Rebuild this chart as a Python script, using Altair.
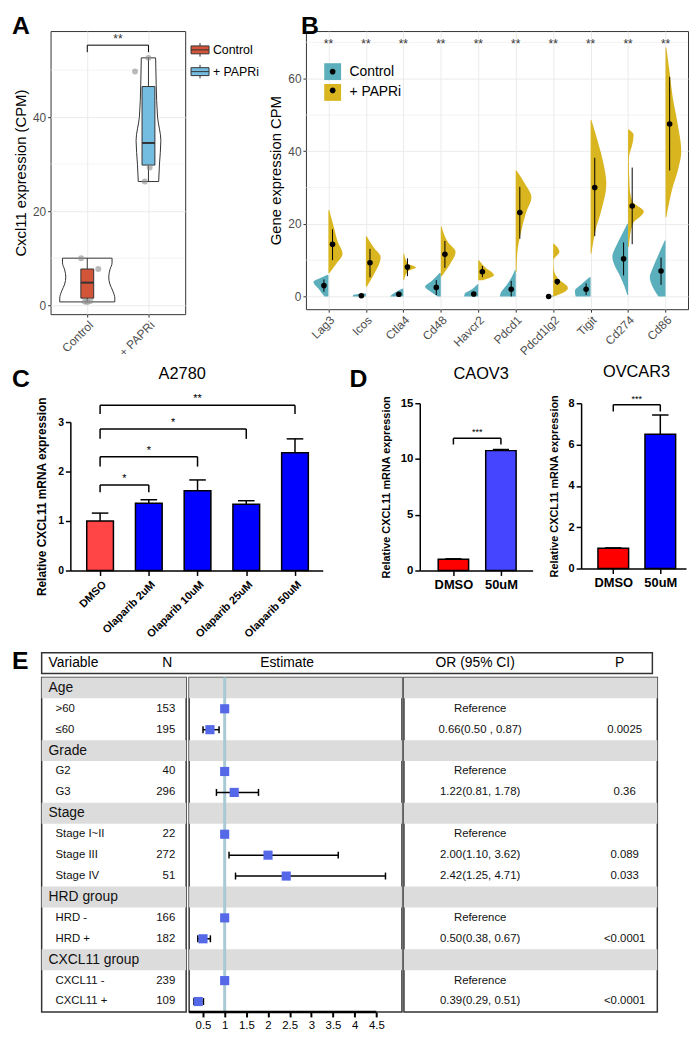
import json
import altair as alt
import pandas as pd

FONT = "Liberation Sans"
DARK = "#333333"
GRID = "#EBEBEB"

# ---------------- Panel A data ----------------
A_groups = ["Control", "+ PAPRi"]
A_fill = ["#D2553A", "#74BCE0"]
A_q1 = [1.5, 29.8]
A_median = [4.8, 34.5]
A_q3 = [7.7, 46.5]
A_low = [0.7, 26.3]
A_high = [10.0, 52.6]
A_point_group = [1, 1, 1, 1, 1, 2, 2, 2, 2]
A_point_value = [10.0, 7.7, 0.8, 0.7, 0.9, 49.7, 52.6, 29.3, 26.3]
A_point_jitter = [-0.10, 0.18, -0.04, 0.0, 0.05, -0.22, 0.0, 0.02, -0.06]
A_violin_group = [1, 1, 1, 1, 1, 1, 1, 1, 2, 2, 2, 2, 2, 2]
A_violin_value = [0.7, 1.5, 3.0, 4.5, 6.0, 7.5, 9.0, 10.0, 26.3, 30.0, 35.0, 40.0, 47.0, 52.6]
A_violin_density = [1.0, 1.0, 0.93, 0.82, 0.78, 0.82, 0.9, 0.9, 0.37, 0.40, 0.45, 0.33, 0.28, 0.26]
A_minor = [10, 30, 50]
A_bracket_level = [55.3]
A_bracket_leg = [53.8]
A_bracket_text = ["**"]

# ---------------- Panel B data ----------------
B_genes = ["Lag3", "Icos", "Ctla4", "Cd48", "Havcr2", "Pdcd1", "Pdcd1lg2", "Tigit", "Cd274", "Cd86"]
B_groups = ["Control", "+ PAPRi"]
B_fill = ["#5BAEBC", "#D9B51F"]
B_ctrl_mean = [3.0, 0.2, 0.6, 2.5, 0.7, 2.0, 0.0, 2.0, 10.4, 7.0]
B_ctrl_low = [1.3, 0.1, 0.3, 0.4, 0.2, 0.0, 0.0, 0.4, 5.8, 3.2]
B_ctrl_high = [4.7, 0.3, 1.0, 4.5, 1.3, 4.3, 0.0, 3.6, 14.9, 10.7]
B_parp_mean = [14.4, 9.3, 8.1, 11.6, 6.8, 23.1, 4.1, 30.0, 24.9, 47.5]
B_parp_low = [10.0, 5.3, 5.6, 7.9, 5.3, 15.9, 3.2, 16.6, 14.4, 34.7]
B_parp_high = [18.5, 13.1, 10.5, 15.3, 8.4, 30.2, 4.7, 38.2, 35.5, 60.5]
B_violin_control = {
    "Lag3": ([0, 2, 4, 5, 5.9], [0.25, 0.6, 0.95, 0.55, 0.1]),
    "Icos": ([0, 0.4, 0.8], [0.85, 0.8, 0.15]),
    "Ctla4": ([0, 1, 2.1], [0.85, 0.55, 0.08]),
    "Cd48": ([0, 1.5, 2.7, 4.2, 6.5], [0.2, 0.7, 1.0, 0.6, 0.08]),
    "Havcr2": ([0, 0.8, 2, 3.4], [0.9, 0.85, 0.4, 0.05]),
    "Pdcd1": ([0, 1, 3, 5, 7.3], [1.0, 0.95, 0.6, 0.3, 0.05]),
    "Pdcd1lg2": ([0, 0.3], [0.15, 0.05]),
    "Tigit": ([0, 1.5, 3.5, 5.3], [0.95, 1.0, 0.55, 0.08]),
    "Cd274": ([0.4, 3, 6, 9, 11, 14, 17, 20], [0.05, 0.25, 0.55, 0.9, 1.0, 0.75, 0.4, 0.05]),
    "Cd86": ([0, 2.5, 5.3, 8, 11, 15.4], [0.45, 0.8, 1.0, 0.8, 0.5, 0.05]),
}
B_violin_parpi = {
    "Lag3": ([6.4, 9, 11.8, 15, 19, 23.8], [0.05, 0.5, 0.9, 0.6, 0.35, 0.05]),
    "Icos": ([2.7, 6, 10.9, 13.5, 16.6], [0.05, 0.5, 0.94, 0.5, 0.05]),
    "Ctla4": ([4.5, 7, 8, 9, 11.8], [0.05, 0.3, 0.8, 0.3, 0.05]),
    "Cd48": ([5.5, 9, 12.3, 15, 19.3], [0.05, 0.6, 0.94, 0.45, 0.05]),
    "Havcr2": ([4.5, 5.9, 8, 10], [0.3, 1.0, 0.45, 0.05]),
    "Pdcd1": ([6.8, 12, 18, 23, 27.3, 31, 34.7], [0.05, 0.1, 0.35, 0.65, 1.0, 0.6, 0.05]),
    "Pdcd1lg2": ([0, 2.3, 5, 7.3, 10, 12.3, 14.5], [0.05, 0.94, 0.3, 0.05, 0.02, 0.4, 0.05]),
    "Tigit": ([11.8, 18, 24, 31, 37, 42, 48.6], [0.05, 0.3, 0.7, 1.0, 0.8, 0.5, 0.05]),
    "Cd274": ([13.6, 20, 23.4, 26, 30, 38, 42.5, 44.5, 46], [0.05, 0.3, 1.0, 0.3, 0.1, 0.05, 0.3, 0.35, 0.05]),
    "Cd86": ([21.8, 30, 35, 40, 48, 55, 62, 68.6], [0.05, 0.45, 0.8, 1.0, 0.75, 0.45, 0.25, 0.05]),
}
B_minor = [10, 30, 50, 70]
B_sig_level = [69.6]
B_sig_text = "**"

# ---------------- Panel C / D data ----------------
C_conditions = ["DMSO", "Olaparib 2uM", "Olaparib 10uM", "Olaparib 25uM", "Olaparib 50uM"]
C_mean = [1.0, 1.36, 1.61, 1.34, 2.38]
C_sd = [0.16, 0.07, 0.22, 0.07, 0.28]
C_colors = ["#FF4545", "#0000FF", "#0000FF", "#0000FF", "#0000FF"]
C_br_from = [0, 0, 0, 0]
C_br_to = [1, 2, 3, 4]
C_br_level = [1.73, 2.30, 2.86, 3.34]
C_br_leg = [1.58, 2.10, 2.66, 3.16]
C_br_text = ["*", "*", "*", "**"]

D1_conditions = ["DMSO", "50uM"]
D1_mean = [1.0, 10.75]
D1_sd = [0.05, 0.1]
D1_colors = ["#FF0000", "#4545FF"]
D1_br_level = [11.86]
D1_br_leg = [11.3]
D1_br_text = ["***"]

D2_conditions = ["DMSO", "50uM"]
D2_mean = [0.98, 6.5]
D2_sd = [0.02, 0.93]
D2_colors = ["#FF0000", "#0000FF"]
D2_br_level = [7.93]
D2_br_leg = [7.6]
D2_br_text = ["***"]

# ---------------- Panel E data ----------------
E_labels = ["Age", ">60", "≤60", "Grade", "G2", "G3", "Stage", "Stage I~II", "Stage III", "Stage IV",
            "HRD group", "HRD -", "HRD +", "CXCL11 group", "CXCL11 -", "CXCL11 +"]
E_is_group = [1, 0, 0, 1, 0, 0, 1, 0, 0, 0, 1, 0, 0, 1, 0, 0]
E_n = ["", "153", "195", "", "40", "296", "", "22", "272", "51", "", "166", "182", "", "239", "109"]
E_or = [None, 1, 0.66, None, 1, 1.22, None, 1, 2.00, 2.42, None, 1, 0.50, None, 1, 0.39]
E_low = [None, None, 0.50, None, None, 0.81, None, None, 1.10, 1.25, None, None, 0.38, None, None, 0.29]
E_high = [None, None, 0.87, None, None, 1.78, None, None, 3.62, 4.71, None, None, 0.67, None, None, 0.51]
E_or_text = ["", "Reference", "0.66(0.50 , 0.87)", "", "Reference", "1.22(0.81, 1.78)", "", "Reference",
             "2.00(1.10, 3.62)", "2.42(1.25, 4.71)", "", "Reference", "0.50(0.38, 0.67)", "", "Reference",
             "0.39(0.29, 0.51)"]
E_p = ["", "", "0.0025", "", "", "0.36", "", "", "0.089", "0.033", "", "", "<0.0001", "", "", "<0.0001"]
E_ref = [1]
E_ticks = [0.5, 1, 1.5, 2, 2.5, 3, 3.5, 4, 4.5]
E_axis_span = [0.18, 4.5]
E_header = ["Variable", "N", "Estimate", "OR (95%  CI)", "P"]

INDEP = dict(color="independent", fill="independent", opacity="independent")


def indep(c):
    return c.resolve_scale(**INDEP).resolve_legend(**INDEP)


def cat(*charts, columns, spacing):
    return indep(alt.concat(*charts, columns=columns, spacing=spacing, align="none"))


def spacer(w=1, h=1):
    return alt.Chart(pd.DataFrame({"t": [0]})).mark_rect(opacity=0).encode(
        x=alt.value(0), x2=alt.value(1), y=alt.value(0), y2=alt.value(1)).properties(width=w, height=h)


def label_layer(text, x, y, size, weight="normal", align="left", baseline="top", color="black"):
    return alt.Chart(pd.DataFrame({"t": [text]})).mark_text(
        font=FONT, fontSize=size, fontWeight=weight, align=align, baseline=baseline, color=color
    ).encode(x=alt.value(x), y=alt.value(y), text="t:N")


# ======================= Panel A =======================
wA, hA = 136, 286
sxA = alt.Scale(domain=[0.4, 2.6], nice=False, zero=False)
syA = alt.Scale(domain=[-1.9, 58.3], nice=False, zero=False)
gg = dict(grid=True, gridColor=GRID, gridWidth=1, domain=False, tickColor=DARK, tickSize=3, tickWidth=1,
          labelFont=FONT, labelFontSize=12, labelColor="#4D4D4D", labelPadding=2, labelOverlap=False)
axAx = alt.Axis(values=[1, 2], labelExpr=json.dumps(A_groups) + "[datum.value - 1]", labelAngle=-45,
                title=None, **gg)
axAy = alt.Axis(values=[0, 20, 40], title="Cxcl11 expression (CPM)", titleFont=FONT, titleFontSize=15,
                titleFontWeight="normal", titleColor="black", titlePadding=4, **gg)


def XA(f):
    return alt.X(f, type="quantitative", scale=sxA, axis=axAx)


def YA(f):
    return alt.Y(f, type="quantitative", scale=syA, axis=axAy)


dfA_box = pd.DataFrame({"name": A_groups, "g": [1, 2], "q1": A_q1, "med": A_median, "q3": A_q3,
                        "lo": A_low, "hi": A_high})
dfA_pts = pd.DataFrame({"g": A_point_group, "v": A_point_value, "j": A_point_jitter})
dfA_vio = pd.DataFrame({"g": A_violin_group, "v": A_violin_value, "d": A_violin_density})
dfA_br = pd.DataFrame({"a": [1], "b": [2], "lev": A_bracket_level, "leg": A_bracket_leg, "t": A_bracket_text})

BOX_PATH = "M-1,-0.44H1V0.44H-1Z M-1,0H1 M0,-0.44V-0.75 M0,0.44V0.75"

a_minor = alt.Chart(pd.DataFrame({"v": A_minor})).mark_rule(color=GRID, strokeWidth=0.6).encode(y=YA("v"))
a_violin = alt.Chart(dfA_vio).transform_calculate(
    xl="datum.g - 0.45*datum.d", xr="datum.g + 0.45*datum.d"
).mark_area(orient="horizontal", interpolate="monotone", fill="white", stroke=DARK, strokeWidth=1,
            opacity=1).encode(y=YA("v"), x=XA("xl"), x2=alt.X2("xr"), detail=alt.Detail("g:N"))
a_w1 = alt.Chart(dfA_box).mark_rule(color=DARK, strokeWidth=1).encode(x=XA("g"), y=YA("lo"), y2=alt.Y2("q1"))
a_w2 = alt.Chart(dfA_box).mark_rule(color=DARK, strokeWidth=1).encode(x=XA("g"), y=YA("q3"), y2=alt.Y2("hi"))
a_box = alt.Chart(dfA_box).transform_calculate(bl="datum.g - 0.105", br="datum.g + 0.105").mark_rect(
    stroke=DARK, strokeWidth=1, opacity=1
).encode(
    x=XA("bl"), x2=alt.X2("br"), y=YA("q1"), y2=alt.Y2("q3"),
    color=alt.Color("name:N", scale=alt.Scale(domain=A_groups, range=A_fill),
                    legend=alt.Legend(title=None, orient="none", legendX=141, legendY=9, symbolType=BOX_PATH,
                                      symbolSize=330, symbolStrokeColor=DARK, symbolStrokeWidth=1,
                                      symbolOpacity=1, labelFont=FONT, labelFontSize=12.5, labelColor="black",
                                      labelOffset=3, rowPadding=3)),
)
a_med = alt.Chart(dfA_box).transform_calculate(bl="datum.g - 0.105", br="datum.g + 0.105").mark_rule(
    color=DARK, strokeWidth=2).encode(x=XA("bl"), x2=alt.X2("br"), y=YA("med"))
a_pts = alt.Chart(dfA_pts).transform_calculate(px="datum.g + datum.j").mark_circle(
    size=36, color="#8C8C8C", opacity=0.6).encode(x=XA("px"), y=YA("v"))
a_brh = alt.Chart(dfA_br).mark_rule(color="black", strokeWidth=1).encode(x=XA("a"), x2=alt.X2("b"), y=YA("lev"))
a_brl = alt.Chart(dfA_br).mark_rule(color="black", strokeWidth=1).encode(x=XA("a"), y=YA("leg"), y2=alt.Y2("lev"))
a_brr = alt.Chart(dfA_br).mark_rule(color="black", strokeWidth=1).encode(x=XA("b"), y=YA("leg"), y2=alt.Y2("lev"))
a_star = alt.Chart(dfA_br).transform_calculate(mid="(datum.a + datum.b)/2").mark_text(
    font=FONT, fontSize=12, dy=-2, baseline="alphabetic", color=DARK).encode(x=XA("mid"), y=YA("lev"), text="t:N")
a_letter = label_layer("A", -39, -17, 25, "bold")

panelA = indep(alt.layer(a_minor, a_violin, a_w1, a_w2, a_box, a_med, a_pts, a_brh, a_brl, a_brr, a_star,
                         a_letter)).properties(width=wA, height=hA,
                                               view=alt.ViewBackground(stroke=DARK, strokeWidth=1))

# ======================= Panel B =======================
wB, hB = 386, 281
sxB = alt.Scale(domain=[0.4, 10.6], nice=False, zero=False)
syB = alt.Scale(domain=[-3.5, 73.1], nice=False, zero=False)
axBx = alt.Axis(values=list(range(1, 11)), labelExpr=json.dumps(B_genes) + "[datum.value - 1]",
                labelAngle=-45, title=None, **gg)
axBy = alt.Axis(values=[0, 20, 40, 60], title="Gene expression CPM", titleFont=FONT, titleFontSize=15,
                titleFontWeight="normal", titleColor="black", titlePadding=4, **gg)


def XB(f):
    return alt.X(f, type="quantitative", scale=sxB, axis=axBx)


def YB(f):
    return alt.Y(f, type="quantitative", scale=syB, axis=axBy)


rows_v = []
for gi, gene in enumerate(B_genes, start=1):
    for grp, prof in (("Control", B_violin_control), ("+ PAPRi", B_violin_parpi)):
        vals, dens = prof[gene]
        for v, d in zip(vals, dens):
            rows_v.append({"gene": gene, "gi": gi, "grp": grp, "v": v, "d": d})
dfB_vio = pd.DataFrame(rows_v)

rows_s = []
for k, gene in enumerate(B_genes):
    rows_s.append({"gene": gene, "gi": k + 1, "grp": "Control", "m": B_ctrl_mean[k],
                   "lo": B_ctrl_low[k], "hi": B_ctrl_high[k]})
    rows_s.append({"gene": gene, "gi": k + 1, "grp": "+ PAPRi", "m": B_parp_mean[k],
                   "lo": B_parp_low[k], "hi": B_parp_high[k]})
dfB_sum = pd.DataFrame(rows_s)
dfB_sig = pd.DataFrame({"gi": list(range(1, 11)), "lev": B_sig_level * 10, "t": [B_sig_text] * 10})

DOT_PATH = "M-0.34,0A0.34,0.34 0 1,0 0.34,0A0.34,0.34 0 1,0 -0.34,0Z"

b_minor = alt.Chart(pd.DataFrame({"v": B_minor})).mark_rule(color=GRID, strokeWidth=0.6).encode(y=YB("v"))
b_violin = alt.Chart(dfB_vio).transform_calculate(
    xl="datum.gi + (datum.grp == 'Control' ? -1 : 1) * 0.42 * datum.d"
).mark_area(orient="horizontal", interpolate="monotone", opacity=1).encode(
    y=YB("v"), x=XB("xl"), x2=alt.X2("gi"), detail=alt.Detail("gene:N"),
    color=alt.Color("grp:N", scale=alt.Scale(domain=B_groups, range=B_fill),
                    legend=alt.Legend(title=None, orient="none", legendX=18, legendY=32, symbolType="square",
                                      symbolSize=290, symbolStrokeWidth=0, symbolOpacity=1, labelFont=FONT,
                                      labelFontSize=14, labelColor="black", labelOffset=8, rowPadding=3)),
)
b_err = alt.Chart(dfB_sum).transform_calculate(
    px="datum.gi + (datum.grp == 'Control' ? -0.12 : 0.11)"
).mark_rule(color="black", strokeWidth=1).encode(x=XB("px"), y=YB("lo"), y2=alt.Y2("hi"))
b_dot = alt.Chart(dfB_sum).transform_calculate(
    px="datum.gi + (datum.grp == 'Control' ? -0.12 : 0.11)", grp2="datum.grp"
).mark_circle(size=32, color="black").encode(
    x=XB("px"), y=YB("m"),
    opacity=alt.Opacity("grp2:O", scale=alt.Scale(domain=B_groups, range=[1, 1]),
                        legend=alt.Legend(title=None, orient="none", legendX=18, legendY=32,
                                          symbolType=DOT_PATH, symbolSize=290, symbolFillColor="black",
                                          symbolStrokeWidth=0, labelFont=FONT, labelFontSize=14,
                                          labelOpacity=0, labelOffset=8, rowPadding=3)),
)
b_star = alt.Chart(dfB_sig).mark_text(font=FONT, fontSize=12, color=DARK, baseline="middle").encode(
    x=XB("gi"), y=YB("lev"), text="t:N")
b_letter = label_layer("B", -5, -17, 25, "bold")

panelB = indep(alt.layer(b_minor, b_violin, b_err, b_dot, b_star, b_letter)).properties(
    width=wB, height=hB, view=alt.ViewBackground(stroke=DARK, strokeWidth=1))


# ======================= Panels C / D =======================
def bar_panel(conds, means, sds, colors, br_from, br_to, br_level, br_leg, br_text, width, height, ydom,
              yvals, xdom, hw, cap, ytitle, ytitle_size, ytitle_pad, ylab_size, xlab_angle, xlab_size,
              title, title_x, title_y, star_size, letter=None, letter_x=0, letter_y=0):
    n = len(conds)
    df = pd.DataFrame({"c": conds, "i": list(range(n)), "m": means, "e": sds})
    dfbr = pd.DataFrame({"a": br_from, "b": br_to, "lev": br_level, "leg": br_leg, "t": br_text})
    sx = alt.Scale(domain=xdom, nice=False, zero=False)
    sy = alt.Scale(domain=ydom, nice=False, zero=False)
    common = dict(domainColor="black", domainWidth=1.5, tickColor="black", tickWidth=1.5, tickSize=5,
                  labelFont=FONT, labelFontWeight="bold", labelColor="black", grid=False, labelOverlap=False)
    xkw = dict(labelAngle=xlab_angle)
    if xlab_angle == 0:
        xkw.update(labelAlign="center", labelBaseline="top")
    ax_x = alt.Axis(values=list(range(n)), labelExpr=json.dumps(conds) + "[datum.value]",
                    labelFontSize=xlab_size, title=None, labelPadding=3, **xkw, **common)
    ax_y = alt.Axis(values=yvals, labelFontSize=ylab_size, title=ytitle, titleFont=FONT,
                    titleFontSize=ytitle_size, titleFontWeight="bold", titleColor="black",
                    titlePadding=ytitle_pad, labelPadding=2, **common)

    def X(f):
        return alt.X(f, type="quantitative", scale=sx, axis=ax_x)

    def Y(f):
        return alt.Y(f, type="quantitative", scale=sy, axis=ax_y)

    base = alt.Chart(df).transform_calculate(
        l=f"datum.i - {hw}", r=f"datum.i + {hw}", cl=f"datum.i - {cap}", cr=f"datum.i + {cap}",
        z="0", top="datum.m + datum.e")
    bars = base.mark_rect(stroke="black", strokeWidth=1.5, opacity=1).encode(
        x=X("l"), x2=alt.X2("r"), y=Y("z"), y2=alt.Y2("m"),
        fill=alt.Fill("c:N", scale=alt.Scale(domain=conds, range=colors), legend=None))
    err = base.mark_rule(color="black", strokeWidth=1.5).encode(x=X("i"), y=Y("m"), y2=alt.Y2("top"))
    capl = base.mark_rule(color="black", strokeWidth=1.5).encode(x=X("cl"), x2=alt.X2("cr"), y=Y("top"))
    brh = alt.Chart(dfbr).mark_rule(color="black", strokeWidth=1.5).encode(x=X("a"), x2=alt.X2("b"), y=Y("lev"))
    brl = alt.Chart(dfbr).mark_rule(color="black", strokeWidth=1.5).encode(x=X("a"), y=Y("leg"), y2=alt.Y2("lev"))
    brr = alt.Chart(dfbr).mark_rule(color="black", strokeWidth=1.5).encode(x=X("b"), y=Y("leg"), y2=alt.Y2("lev"))
    stars = alt.Chart(dfbr).transform_calculate(mid="(datum.a + datum.b)/2").mark_text(
        font=FONT, fontSize=star_size, dy=-3, baseline="alphabetic", color="black").encode(
        x=X("mid"), y=Y("lev"), text="t:N")
    layers = [bars, err, capl, brh, brl, brr, stars,
              label_layer(title, title_x, title_y, 16.5, "normal", "center")]
    if letter:
        layers.append(label_layer(letter, letter_x, letter_y, 25, "bold"))
    return indep(alt.layer(*layers)).properties(width=width, height=height)


panelC = bar_panel(C_conditions, C_mean, C_sd, C_colors, C_br_from, C_br_to, C_br_level, C_br_leg, C_br_text,
                   width=255, height=150, ydom=[0, 3], yvals=[0, 1, 2, 3], xdom=[-0.61, 4.57], hw=0.274,
                   cap=0.17, ytitle="Relative CXCL11 mRNA expression", ytitle_size=12, ytitle_pad=9,
                   ylab_size=10.5, xlab_angle=-45, xlab_size=11, title="A2780", title_x=113, title_y=-56,
                   star_size=11, letter="C", letter_x=-59, letter_y=-55)
panelD1 = bar_panel(D1_conditions, D1_mean, D1_sd, D1_colors, [0], [1], D1_br_level, D1_br_leg, D1_br_text,
                    width=114, height=169, ydom=[0, 15], yvals=[0, 5, 10, 15], xdom=[-0.708, 1.667], hw=0.32,
                    cap=0.17, ytitle="Relative CXCL11 mRNA expression", ytitle_size=11, ytitle_pad=9,
                    ylab_size=11.5, xlab_angle=0, xlab_size=13, title="CAOV3", title_x=62, title_y=-37,
                    star_size=9, letter="D", letter_x=-71, letter_y=-36)
panelD2 = bar_panel(D2_conditions, D2_mean, D2_sd, D2_colors, [0], [1], D2_br_level, D2_br_leg, D2_br_text,
                    width=106, height=167, ydom=[0, 8], yvals=[0, 2, 4, 6, 8], xdom=[-0.684, 1.547], hw=0.326,
                    cap=0.175, ytitle="Relative CXCL11 mRNA expression", ytitle_size=11, ytitle_pad=9,
                    ylab_size=11, xlab_angle=0, xlab_size=13, title="OVCAR3", title_x=56, title_y=-39,
                    star_size=9)

# ======================= Panel E =======================
wL, wM, wR = 146, 215, 256
hHead = 21
hBody = 338
BAND = "#DCDCDC"
dfE = pd.DataFrame({"row": list(range(len(E_labels))), "label": E_labels, "grp": E_is_group, "n": E_n,
                    "or": E_or, "lo": E_low, "hi": E_high, "ort": E_or_text, "p": E_p})
Yrow = alt.Y("row:O", scale=alt.Scale(domain=list(range(len(E_labels))), paddingInner=0, paddingOuter=0),
             axis=None)


def bands(w):
    return alt.Chart(dfE).transform_filter("datum.grp == 1").mark_rect(fill=BAND).encode(
        y=Yrow, x=alt.value(0), x2=alt.value(w))


def col_text(field, x, size, align, flt):
    return alt.Chart(dfE).transform_filter(flt).mark_text(
        font=FONT, fontSize=size, align=align, baseline="middle", color="#111111").encode(
        y=Yrow, x=alt.value(x), text=f"{field}:N")


border = alt.ViewBackground(stroke=DARK, strokeWidth=1.5)
wAll = wL + wM + wR
e_head = alt.layer(
    label_layer(E_header[0], 7, 10.5, 14, baseline="middle"),
    label_layer(E_header[1], 127, 10.5, 14, align="center", baseline="middle"),
    label_layer(E_header[2], wL + 102, 10.5, 14, align="center", baseline="middle"),
    label_layer(E_header[3], wL + wM + 77, 10.5, 14, align="center", baseline="middle"),
    label_layer(E_header[4], wL + wM + 223, 10.5, 14, align="center", baseline="middle"),
    label_layer("E", -30, -4, 25, "bold"),
).properties(width=wAll, height=hHead, view=border)

e_left = alt.layer(
    bands(wL),
    col_text("label", 7, 14, "left", "datum.grp == 1"),
    col_text("label", 14, 11.5, "left", "datum.grp == 0"),
    col_text("n", 135, 11.5, "right", "datum.grp == 0"),
).properties(width=wL, height=hBody, view=border)

sxE = alt.Scale(domain=[0.18, 5.09], nice=False, zero=False)
axE = alt.Axis(values=E_ticks, format="~g", domain=False, tickColor="black", tickWidth=2,
               tickSize=5, labelFont=FONT, labelFontSize=11.5, labelColor="black", labelPadding=3, title=None,
               grid=False, labelOverlap=False)


def XE(f):
    return alt.X(f, type="quantitative", scale=sxE, axis=axE)


e_ref = alt.Chart(pd.DataFrame({"ref": E_ref})).mark_rule(color="#A9C9D5", strokeWidth=3).encode(
    x=XE("ref"), y=alt.value(0), y2=alt.value(hBody))
est = alt.Chart(dfE).transform_filter("datum.grp == 0")
e_ci = est.transform_filter("isValid(datum.lo)").mark_rule(color="black", strokeWidth=1.5).encode(
    x=XE("lo"), x2=alt.X2("hi"), y=Yrow)
e_capl = est.transform_filter("isValid(datum.lo)").mark_tick(color="black", thickness=1.5, size=7,
                                                             opacity=1).encode(x=XE("lo"), y=Yrow)
e_caph = est.transform_filter("isValid(datum.hi)").mark_tick(color="black", thickness=1.5, size=7,
                                                             opacity=1).encode(x=XE("hi"), y=Yrow)
e_sq = est.mark_square(size=85, color="#5468E8", opacity=1).encode(x=XE("or"), y=Yrow)
e_axline = alt.Chart(pd.DataFrame({"a": [E_axis_span[0]], "b": [E_axis_span[1]]})).mark_rule(
    color="black", strokeWidth=2.5).encode(x=XE("a"), x2=alt.X2("b"), y=alt.value(hBody))
e_mid = alt.layer(bands(wM), e_ref, e_ci, e_capl, e_caph, e_sq, e_axline).properties(
    width=wM, height=hBody, view=border)

e_right = alt.layer(
    bands(wR),
    col_text("ort", 77, 11.5, "center", "datum.grp == 0"),
    col_text("p", 223, 11.5, "center", "datum.grp == 0"),
).properties(width=wR, height=hBody, view=border)

panelE = alt.vconcat(e_head, alt.hconcat(e_left, e_mid, e_right, spacing=0), spacing=0)

# ======================= Layout =======================
row1 = cat(spacer(), cat(panelA, panelB, columns=2, spacing=8), columns=2, spacing=0)
colC = cat(spacer(1, 3), panelC, columns=1, spacing=0)
colD = cat(spacer(1, 1), cat(panelD1, panelD2, columns=2, spacing=14), columns=1, spacing=0)
row2 = cat(spacer(), cat(colC, colD, columns=2, spacing=25), columns=2, spacing=0)
row3 = cat(spacer(), panelE, columns=2, spacing=0)
upper = cat(row1, row2, columns=1, spacing=2)
chart = cat(upper, row3, columns=1, spacing=8).properties(padding=0).configure(
    font=FONT).configure_view(stroke="transparent")

chart.save("out.html", embed_options={"renderer": "svg", "actions": False})
